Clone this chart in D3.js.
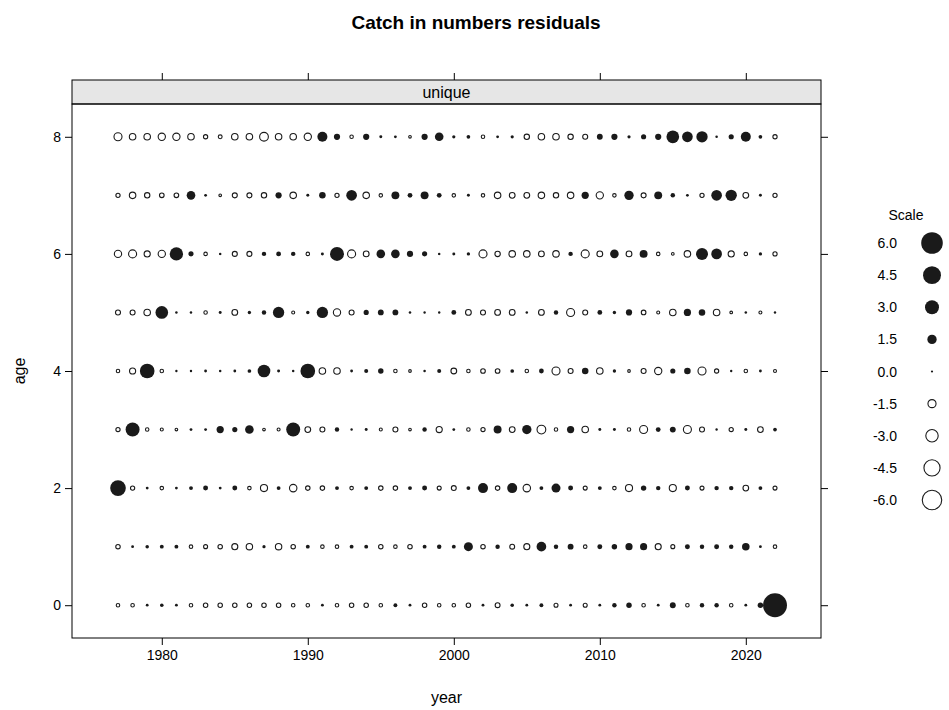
<!DOCTYPE html>
<html><head><meta charset="utf-8">
<script src="https://cdn.jsdelivr.net/npm/d3@7"></script>
<style>body{margin:0;background:#fff} text{font-family:"Liberation Sans",Arial,sans-serif;fill:#000}</style>
</head><body><svg id="c" width="949" height="710"></svg>
<script>
const years = [1977,1978,1979,1980,1981,1982,1983,1984,1985,1986,1987,1988,1989,1990,1991,1992,1993,1994,1995,1996,1997,1998,1999,2000,2001,2002,2003,2004,2005,2006,2007,2008,2009,2010,2011,2012,2013,2014,2015,2016,2017,2018,2019,2020,2021,2022];
const ages = [0,1,2,3,4,5,6,7,8];
const age0 = [-0.3,-0.3,0.05,0.15,0.05,-0.3,-0.5,-0.5,-0.5,-0.5,-0.5,-0.5,-0.3,-0.3,0.05,-0.3,-0.5,-0.5,-0.3,0.2,0.05,-0.5,-0.3,-0.3,-0.5,0.05,-0.6,0.15,0.05,0.2,-0.4,0.05,-0.4,0.05,0.3,0.5,-0.3,0.05,0.6,-0.3,0.3,0.3,-0.3,0.05,0.5,7.0];
const age1 = [-0.5,0.05,0.15,0.2,0.2,-0.3,-0.4,-0.5,-0.9,-1.0,0.1,-1.0,-0.5,0.2,-0.3,-0.3,0.2,0.2,-0.5,-0.3,-0.5,0.2,0.3,0.2,1.4,-0.5,0.3,-0.6,-0.9,1.6,0.3,0.6,-0.3,0.4,0.5,0.9,0.9,-0.9,-0.4,0.4,0.3,0.4,0.3,1.0,0.05,-0.3];
const age2 = [3.6,-0.45,0.05,-0.3,0.05,0.2,0.4,0.05,0.4,-0.3,-1.2,0.2,-1.3,-0.5,-0.5,0.2,-0.3,0.2,-0.5,-0.5,0.2,0.4,-0.4,-0.6,0.2,1.7,-0.5,1.7,-1.3,0.2,1.4,0.4,-0.4,0.2,-0.3,-1.2,0.5,0.3,-1.2,0.4,-0.4,0.3,0.3,-0.8,0.2,-0.4];
const age3 = [-0.45,3.0,-0.29,-0.2,-0.14,0.05,0.05,0.92,0.44,1.29,-0.14,-0.2,3.0,-0.82,-0.63,0.3,0.01,0.07,-0.2,-0.63,-0.14,0.3,-0.92,0.05,-0.29,-0.45,1.1,-0.82,1.49,-1.71,-0.29,0.92,-1.03,0.07,0.07,-0.29,-1.48,0.37,0.59,-1.48,-0.63,0.01,-0.45,0.07,-0.82,0.17];
const age4 = [-0.29,-0.92,3.25,-0.29,0.01,0.01,0.05,0.02,0.05,0.17,2.55,0.07,0.02,3.25,-1.03,-1.03,0.05,0.23,0.51,-0.29,-0.14,0.02,0.23,-0.82,-0.29,-0.54,-0.54,0.17,-0.29,0.37,-1.48,-0.63,0.75,-1.03,0.12,-0.14,-0.63,-1.25,0.44,0.75,-1.48,-0.45,0.01,-0.29,0.05,-0.2];
const age5 = [-0.63,-0.63,-1.03,2.55,0.02,0.02,-0.29,0.07,-0.82,0.12,0.3,2.1,-0.2,0.12,2.1,-1.25,-0.63,0.44,0.59,0.59,0.02,0.01,0.01,0.37,-0.82,-0.63,-0.82,-0.82,0.02,-0.82,0.3,-1.48,-0.63,0.37,0.12,0.67,-0.54,-0.2,-1.03,0.92,0.75,-1.03,-0.14,0.02,-0.2,0.01];
const age6 = [-1.25,-1.48,-0.92,-1.25,2.78,0.44,-0.29,0.02,-0.63,-0.63,0.3,0.37,0.3,-0.29,0.07,3.0,-1.48,-0.82,1.29,1.29,0.67,0.44,0.02,0.07,0.12,-1.48,-0.72,-1.03,-1.03,-0.82,-1.03,0.3,-1.48,-0.82,1.29,-0.82,1.1,-0.29,-0.14,-1.03,2.32,1.9,-0.92,-0.29,0.12,-0.45];
const age7 = [-0.45,-1.03,-0.72,-0.54,-0.54,1.29,0.05,-0.14,-0.63,-0.63,-0.72,0.67,-1.03,0.07,0.75,-0.45,1.9,-1.03,-0.29,1.1,0.37,1.1,0.37,-0.29,0.07,-0.29,-1.03,-0.82,-0.82,-1.03,-0.72,-1.03,0.92,-1.25,-0.29,1.49,-0.63,1.1,0.3,0.05,-0.45,1.9,2.1,-0.82,0.07,-0.45];
const age8 = [-1.48,-1.03,-1.03,-1.25,-1.25,-1.03,-0.45,-0.37,-1.03,-1.03,-1.71,-1.03,-1.03,-1.25,1.69,0.67,-0.29,0.67,0.07,0.05,-0.14,0.67,1.29,0.1,0.17,-0.29,0.05,0.1,-0.72,-1.03,-1.03,-0.72,-0.63,0.59,0.67,0.1,0.44,0.67,2.55,1.9,2.1,0.02,0.44,1.69,0.17,-0.45];
const residuals = [age0,age1,age2,age3,age4,age5,age6,age7,age8];
const xTicks = [1980,1990,2000,2010,2020];
const yTicks = [0,2,4,6,8];
const legendVals = [6.0,4.5,3.0,1.5,0.0,-1.5,-3.0,-4.5,-6.0];

const svg = d3.select("#c");
const L = 72, R = 821, T = 104, B = 638, stripTop = 80;
const x = d3.scaleLinear().domain([1973.85, 2025.15]).range([L, R]);
const y = d3.scaleLinear().domain([-0.56, 8.56]).range([B, T]);
const rs = d3.scalePow().exponent(0.72).domain([0, 6]).range([1.1, 10.8]);
function rad(v){ return v >= 0 ? rs(Math.abs(v)) : Math.max(0.9, 0.93*rs(Math.abs(v)) - 0.3); }

// title
svg.append("text").attr("x", 476).attr("y", 29).attr("text-anchor","middle")
  .style("font-size","19px").style("font-weight","bold").text("Catch in numbers residuals");

// strip
svg.append("rect").attr("x", L).attr("y", stripTop).attr("width", R-L).attr("height", T-stripTop)
  .attr("fill","#e6e6e6").attr("stroke","#000").attr("stroke-width",1);
svg.append("text").attr("x",(L+R)/2).attr("y", T-6).attr("text-anchor","middle")
  .style("font-size","16px").text("unique");

// panel
svg.append("rect").attr("x", L).attr("y", T).attr("width", R-L).attr("height", B-T)
  .attr("fill","none").attr("stroke","#000").attr("stroke-width",1);

function styleAxis(g){ g.select(".domain").remove(); g.selectAll("line").attr("stroke","#000");
  g.selectAll("text").style("font-size","14px").attr("fill","#000"); }
svg.append("g").attr("transform",`translate(0,${B})`)
  .call(d3.axisBottom(x).tickValues(xTicks).tickFormat(d3.format("d")).tickSize(7).tickPadding(5)).call(styleAxis);
svg.append("g").attr("transform",`translate(0,${stripTop})`)
  .call(d3.axisTop(x).tickValues(xTicks).tickFormat("").tickSize(7)).call(styleAxis);
svg.append("g").attr("transform",`translate(${L},0)`)
  .call(d3.axisLeft(y).tickValues(yTicks).tickSize(7).tickPadding(4)).call(styleAxis);
svg.append("g").attr("transform",`translate(${R},0)`)
  .call(d3.axisRight(y).tickValues(yTicks).tickFormat("").tickSize(7)).call(styleAxis);

// axis labels
svg.append("text").attr("x",(L+R)/2).attr("y",703).attr("text-anchor","middle").style("font-size","16px").text("year");
svg.append("text").attr("transform",`translate(25,${(T+B)/2}) rotate(-90)`).attr("text-anchor","middle").style("font-size","16px").text("age");

// bubbles
const pts = [];
ages.forEach((a,i)=> years.forEach((yr,j)=> pts.push({year:yr, age:a, v:residuals[i][j]})));
svg.append("g").selectAll("circle").data(pts).join("circle")
  .attr("cx", d=>x(d.year)).attr("cy", d=>y(d.age)).attr("r", d=>rad(d.v))
  .attr("fill", d=> d.v>=0 ? "#1a1a1a" : "none")
  .attr("stroke", d=> d.v>=0 ? "none" : "#1a1a1a").attr("stroke-width",1.1);

// legend
const lg = svg.append("g");
const ly = d3.scalePoint().domain(legendVals).range([243, 500]);
lg.append("text").attr("x",906).attr("y",220).attr("text-anchor","middle").style("font-size","14px").text("Scale");
lg.selectAll("text.l").data(legendVals).join("text").attr("class","l")
  .attr("x",897).attr("y",d=>ly(d)+5).attr("text-anchor","end").style("font-size","14px")
  .text(d=>d.toFixed(1));
lg.selectAll("circle").data(legendVals).join("circle")
  .attr("cx",932).attr("cy",d=>ly(d)).attr("r",d=>rad(d))
  .attr("fill", d=> d>=0 ? "#1a1a1a" : "none")
  .attr("stroke", d=> d>=0 ? "none" : "#1a1a1a").attr("stroke-width",1.1);
</script></body></html>
